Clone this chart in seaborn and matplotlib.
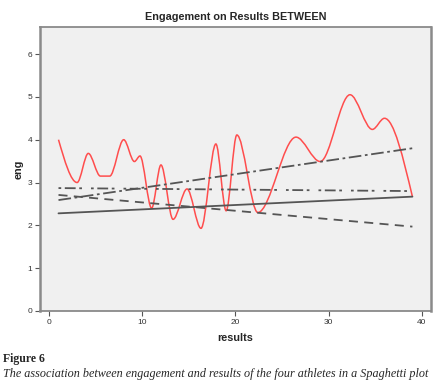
import numpy as np
import pandas as pd
import seaborn as sns
import matplotlib.pyplot as plt
from matplotlib.path import Path
from matplotlib.patches import PathPatch

# four athletes: straight fitted lines (start / end at results 1 and 39)
line_x = [1, 39]
solid_eng = [2.28, 2.67]
dashdot_eng = [2.59, 3.80]
dashdotdot_eng = [2.87, 2.80]
dashed_eng = [2.71, 1.97]

# red interpolated curve: knots
red_x = [1, 3, 4.2, 5.5, 6.5, 8.0, 9.15, 9.75, 11.0, 12.0, 13.3, 14.8,
         16.3, 17.9, 19.0, 20.15, 22.4, 26.5, 29.1, 32.3, 34.7, 36.0, 39]
red_eng = [4.0, 3.0, 3.68, 3.15, 3.15, 4.0, 3.49, 3.62, 2.40, 3.41, 2.14, 2.85,
           1.93, 3.9, 2.34, 4.11, 2.30, 4.06, 3.49, 5.05, 4.24, 4.50, 2.67]

x_ticks = [0, 10, 20, 30, 40]
y_ticks = [0, 1, 2, 3, 4, 5, 6]

sns.set_style('white', {'axes.facecolor': '#f0f0f0'})
plt.rcParams['font.family'] = ['Liberation Sans', 'DejaVu Sans']

fig = plt.figure(figsize=(4.43, 3.90), dpi=100)
ax = fig.add_axes([0.090, 0.2026, 0.883, 0.728])

lines = pd.DataFrame({
    'results': line_x * 4,
    'eng': solid_eng + dashdot_eng + dashdotdot_eng + dashed_eng,
    'athlete': ['a'] * 2 + ['b'] * 2 + ['c'] * 2 + ['d'] * 2,
})
sns.lineplot(data=lines, x='results', y='eng', style='athlete',
             dashes={'a': '', 'b': (7, 2, 1.5, 2), 'c': (1.5, 2, 6, 2, 1.5, 5),
                     'd': (5, 3.5)},
             color='#555555', linewidth=1.3, legend=False, ax=ax)

# smooth curve through the knots, drawn as cubic Bezier segments
xs = np.array(red_x, dtype=float)
ys = np.array(red_eng, dtype=float)
m = np.zeros_like(ys)
m[0] = 1.5 * (ys[1] - ys[0]) / (xs[1] - xs[0])
m[-1] = 1.5 * (ys[-1] - ys[-2]) / (xs[-1] - xs[-2])
verts = [(xs[0], ys[0])]
codes = [Path.MOVETO]
for i in range(len(xs) - 1):
    h = xs[i + 1] - xs[i]
    verts += [(xs[i] + h / 3, ys[i] + m[i] * h / 3),
              (xs[i + 1] - h / 3, ys[i + 1] - m[i + 1] * h / 3),
              (xs[i + 1], ys[i + 1])]
    codes += [Path.CURVE4] * 3
ax.add_patch(PathPatch(Path(verts, codes), facecolor='none',
                       edgecolor='#ff4d4d', linewidth=1.1))

ax.set_xlim(-1, 41)
ax.set_ylim(0, 6.63)
ax.set_xticks(x_ticks)
ax.set_yticks(y_ticks)
ax.tick_params(axis='both', which='both', direction='out', length=3.5,
               width=0.8, color='#555555', labelsize=6, labelcolor='#333333',
               left=True, bottom=True, pad=2)
for s in ax.spines.values():
    s.set_color('#8a8a8a')
    s.set_linewidth(1.3)
ax.spines['left'].set_linewidth(1.8)
ax.spines['right'].set_linewidth(1.8)

ax.set_title('Engagement on Results BETWEEN', fontsize=7.8, fontweight='bold',
             pad=5)
ax.set_xlabel('results', fontsize=7.8, fontweight='bold', labelpad=5)
ax.set_ylabel('eng', fontsize=7.8, fontweight='bold', labelpad=3)

fig.text(0.007, 0.08, 'Figure 6', fontsize=8.5, fontweight='bold',
         family='Liberation Serif', va='center')
fig.text(0.007, 0.04,
         'The association between engagement and results of the four athletes in a Spaghetti plot',
         fontsize=8.7, style='italic', family='Liberation Serif', va='center')

fig.savefig('out.png', dpi=100)
